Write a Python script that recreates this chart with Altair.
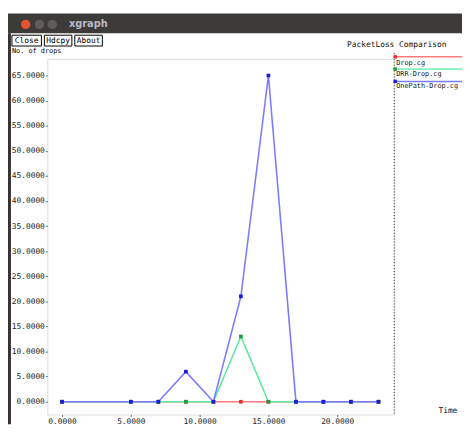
import altair as alt
import pandas as pd

# ---- data ----
x_vals = [0, 5, 7, 9, 11, 13, 15, 17, 19, 21, 23]
drop_cg = [0, 0, 0, 0, 0, 0, 0, 0, 0, 0, 0]
drr_drop_cg = [0, 0, 0, 0, 0, 13, 0, 0, 0, 0, 0]
onepath_drop_cg = [0, 0, 0, 6, 0, 21, 65, 0, 0, 0, 0]

series_names = ["Drop.cg", "DRR-Drop.cg", "OnePath-Drop.cg"]
line_colors = ["#ff7a7a", "#5ee8a0", "#7b7bff"]
point_colors = ["#e83030", "#1a9a40", "#1a1ae0"]
y_ticks = [0, 5, 10, 15, 20, 25, 30, 35, 40, 45, 50, 55, 60, 65]
x_ticks = [0, 5, 10, 15, 20]

series_values = [drop_cg, drr_drop_cg, onepath_drop_cg]
rows = []
for name, vals in zip(series_names, series_values):
    for xv, yv in zip(x_vals, vals):
        rows.append({"series": name, "x": xv, "y": yv})
df = pd.DataFrame(rows)

FONT = "DejaVu Sans Mono"

xs = alt.Scale(domain=[-1.0714, 24.143], nice=False, zero=False)
ys = alt.Scale(domain=[-2.545, 68.33], nice=False, zero=False)

x_axis = alt.Axis(values=x_ticks, format=".4f", title=None, grid=False, domain=False,
                  tickSize=2, tickColor="#666", labelPadding=1, labelFont=FONT,
                  labelFontSize=8, labelColor="#222")
y_axis = alt.Axis(values=y_ticks, format=".4f", title=None, grid=False, domain=False,
                  tickSize=2, tickColor="#666", labelPadding=1, labelFont=FONT,
                  labelFontSize=8, labelColor="#222")

layers = []
for name, lc, pc in zip(series_names, line_colors, point_colors):
    sub = df[df["series"] == name]
    enc_x = alt.X("x:Q", scale=xs, axis=x_axis)
    enc_y = alt.Y("y:Q", scale=ys, axis=y_axis)
    line = alt.Chart(sub).mark_line(color=lc, strokeWidth=1.6).encode(x=enc_x, y=enc_y)
    pts = alt.Chart(sub).mark_square(color=pc, size=14, opacity=1).encode(x=enc_x, y=enc_y)
    layers += [line, pts]

one = pd.DataFrame({"k": [0]})

# right border (darker dotted)
right_border = alt.Chart(one).mark_rule(color="#222", strokeDash=[1, 2], strokeWidth=1).encode(
    x=alt.value(353), y=alt.value(-6), y2=alt.value(362))

# legend (xgraph style: line above label)
legend_layers = []
for i, (name, lc, pc) in enumerate(zip(series_names, line_colors, point_colors)):
    ly = -2 + i * 12.5
    ty = 4 + i * 12
    legend_layers.append(alt.Chart(one).mark_rule(color=lc, strokeWidth=1.5).encode(
        x=alt.value(353), x2=alt.value(430), y=alt.value(ly)))
    legend_layers.append(alt.Chart(one).mark_square(color=pc, size=12, opacity=1).encode(
        x=alt.value(354), y=alt.value(ly)))
    legend_layers.append(alt.Chart(one).mark_text(text=name, align="left", baseline="middle",
                                                  font=FONT, fontSize=7, color="#111").encode(
        x=alt.value(355), y=alt.value(ty)))

# window chrome
title_bar = alt.Chart(one).mark_rect(color="#3c3b37").encode(
    x=alt.value(-40), x2=alt.value(425), y=alt.value(-46), y2=alt.value(-26))
left_border = alt.Chart(one).mark_rect(color="#3a3038").encode(
    x=alt.value(-40), x2=alt.value(-37), y=alt.value(-26), y2=alt.value(372))
btn_close = alt.Chart(one).mark_circle(color="#e5532d", size=90, opacity=1).encode(
    x=alt.value(-22), y=alt.value(-35))
btn_min = alt.Chart(one).mark_circle(color="#5e5d59", size=90, opacity=1).encode(
    x=alt.value(-8), y=alt.value(-35))
btn_max = alt.Chart(one).mark_circle(color="#5e5d59", size=90, opacity=1).encode(
    x=alt.value(5), y=alt.value(-35))
win_title = alt.Chart(one).mark_text(text="xgraph", align="left", baseline="middle",
                                     font="DejaVu Sans", fontSize=10, fontWeight="bold",
                                     color="#b9b9c9").encode(x=alt.value(22), y=alt.value(-35))

buttons = []
for label, x0, x1 in [("Close", -36, -6), ("Hdcpy", -3, 25), ("About", 28, 56)]:
    buttons.append(alt.Chart(one).mark_rect(fill="white", stroke="#000", strokeWidth=1).encode(
        x=alt.value(x0), x2=alt.value(x1), y=alt.value(-24), y2=alt.value(-13)))
    buttons.append(alt.Chart(one).mark_text(text=label, align="center", baseline="middle",
                                            font=FONT, fontSize=8, color="#000").encode(
        x=alt.value((x0 + x1) / 2), y=alt.value(-18.5)))

y_label = alt.Chart(one).mark_text(text="No. of drops", align="left", baseline="middle",
                                   font=FONT, fontSize=7, color="#000").encode(
    x=alt.value(-36), y=alt.value(-8))
plot_title = alt.Chart(one).mark_text(text="PacketLoss Comparison", align="left",
                                      baseline="middle", font=FONT, fontSize=8,
                                      color="#111").encode(x=alt.value(305), y=alt.value(-14))
x_label = alt.Chart(one).mark_text(text="Time", align="left", baseline="middle",
                                   font=FONT, fontSize=8, color="#111").encode(
    x=alt.value(398), y=alt.value(358))

chart = alt.layer(
    *layers, right_border, *legend_layers,
    title_bar, left_border, btn_close, btn_min, btn_max, win_title,
    *buttons, y_label, plot_title, x_label
).properties(
    width=353, height=362,
    autosize=alt.AutoSizeParams(type="none"),
    padding={"left": 40, "top": 48, "right": 69, "bottom": 9},
).configure_view(
    stroke="#999", strokeDash=[3, 2], strokeWidth=1
).configure(background="white")

chart.save("out.html", embed_options={"renderer": "svg", "actions": False})
